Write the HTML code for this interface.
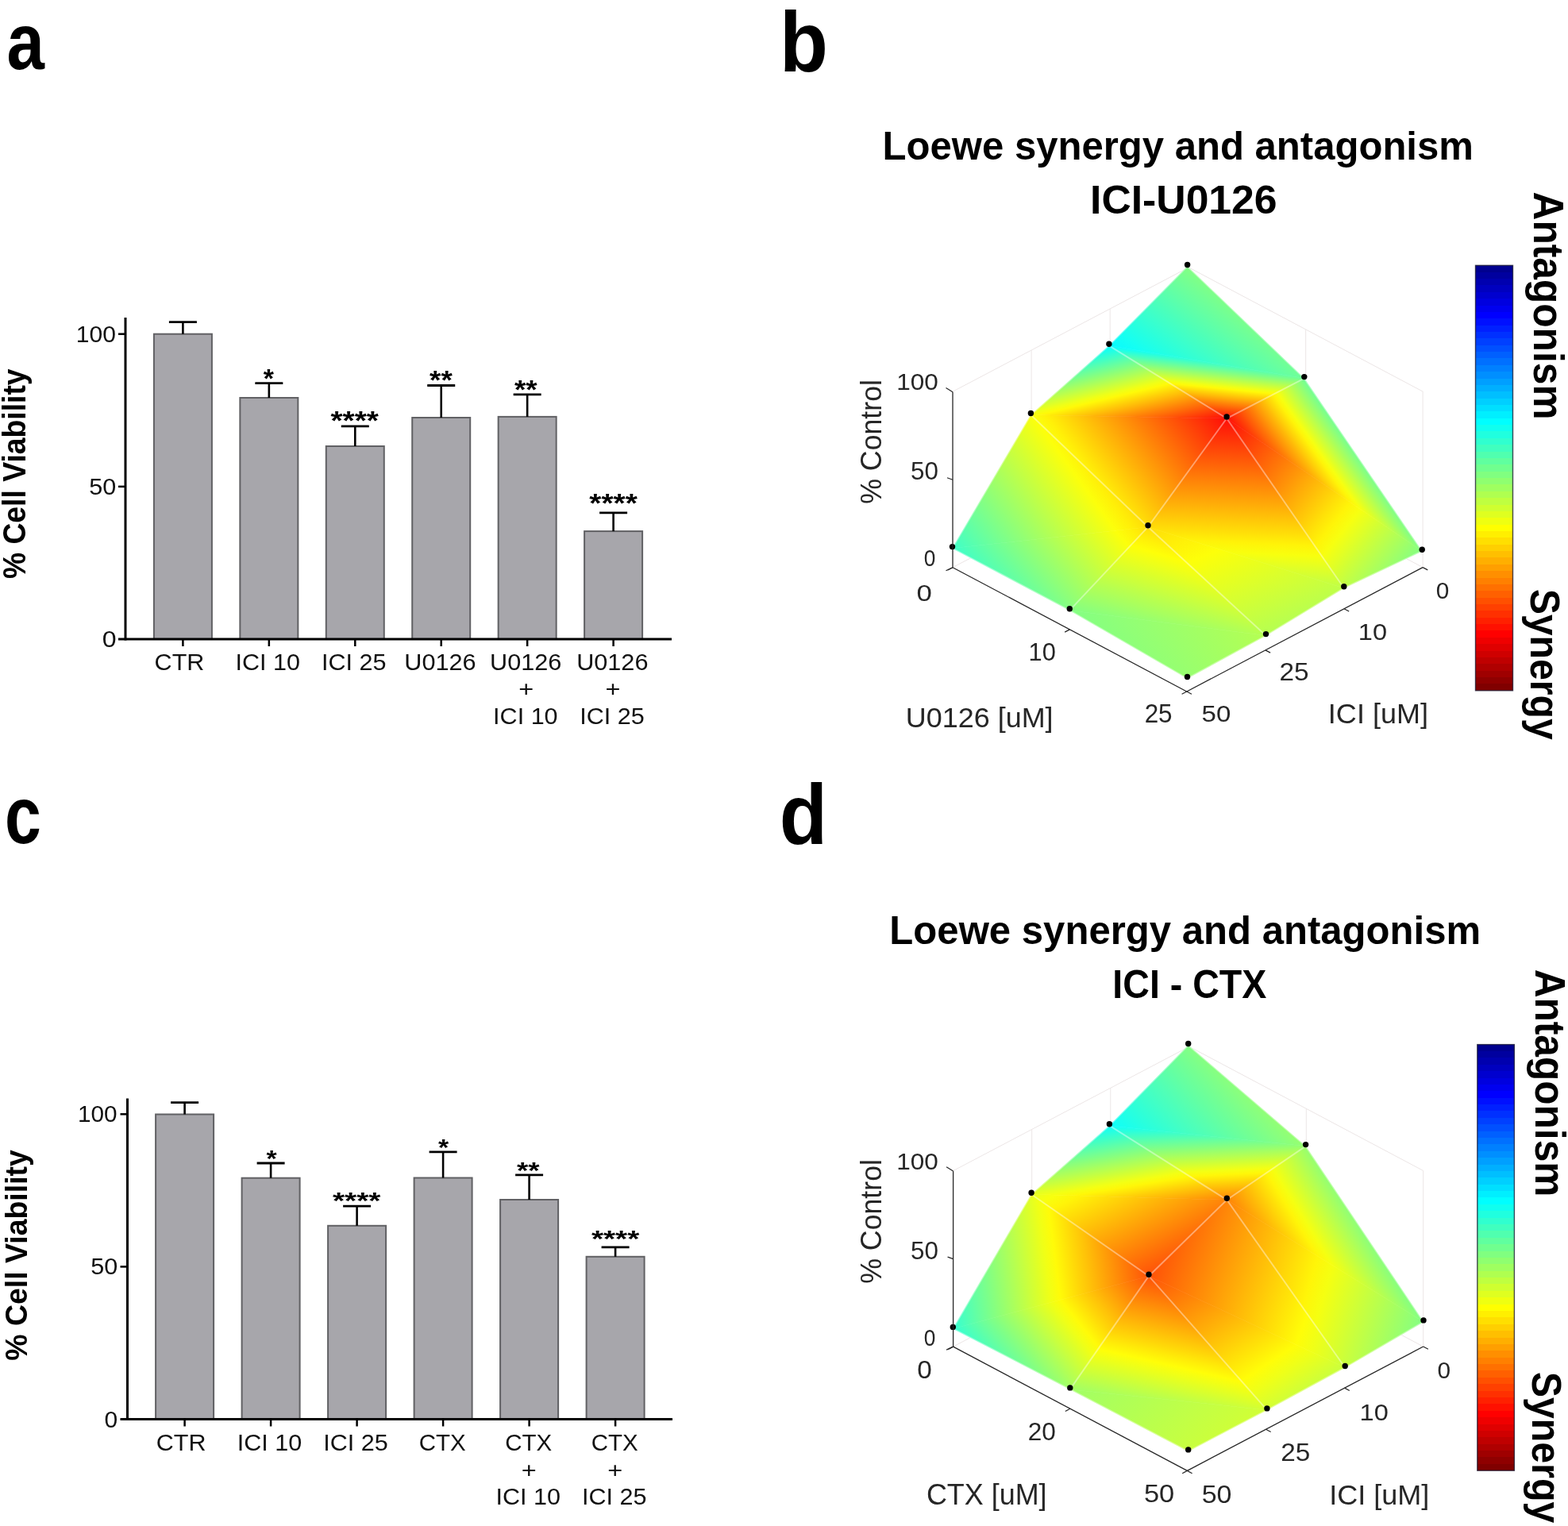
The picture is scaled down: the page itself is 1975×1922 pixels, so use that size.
<!DOCTYPE html><html><head><meta charset="utf-8"><style>html,body{margin:0;padding:0;background:#fff;overflow:hidden}svg{display:block}</style></head><body><svg width="1975" height="1922" viewBox="0 0 1975 1922"><rect width="1975" height="1922" fill="#fff"/><text transform="translate(8.44,86.69) scale(0.8467,1)" font-family="Liberation Sans, sans-serif" font-weight="bold" font-size="100.73" fill="#000">a</text>
<text transform="translate(981.91,89.80) scale(0.9316,1)" font-family="Liberation Sans, sans-serif" font-weight="bold" font-size="107.12" fill="#000">b</text>
<text transform="translate(5.90,1061.98) scale(0.8112,1)" font-family="Liberation Sans, sans-serif" font-weight="bold" font-size="101.64" fill="#000">c</text>
<text transform="translate(981.75,1062.50) scale(0.9176,1)" font-family="Liberation Sans, sans-serif" font-weight="bold" font-size="107.67" fill="#000">d</text>
<rect x="193.90" y="420.70" width="73" height="384.30" fill="#a7a6ab" stroke="#616164" stroke-width="2"/>
<line x1="230.40" y1="405.70" x2="230.40" y2="420.70" stroke="#000" stroke-width="2.6" />
<line x1="212.90" y1="405.70" x2="247.90" y2="405.70" stroke="#000" stroke-width="2.8" />
<rect x="302.34" y="501.00" width="73" height="304.00" fill="#a7a6ab" stroke="#616164" stroke-width="2"/>
<line x1="338.84" y1="482.70" x2="338.84" y2="501.00" stroke="#000" stroke-width="2.6" />
<line x1="321.34" y1="482.70" x2="356.34" y2="482.70" stroke="#000" stroke-width="2.8" />
<rect x="410.78" y="562.00" width="73" height="243.00" fill="#a7a6ab" stroke="#616164" stroke-width="2"/>
<line x1="447.28" y1="536.90" x2="447.28" y2="562.00" stroke="#000" stroke-width="2.6" />
<line x1="429.78" y1="536.90" x2="464.78" y2="536.90" stroke="#000" stroke-width="2.8" />
<rect x="519.22" y="526.00" width="73" height="279.00" fill="#a7a6ab" stroke="#616164" stroke-width="2"/>
<line x1="555.72" y1="485.50" x2="555.72" y2="526.00" stroke="#000" stroke-width="2.6" />
<line x1="538.22" y1="485.50" x2="573.22" y2="485.50" stroke="#000" stroke-width="2.8" />
<rect x="627.66" y="524.90" width="73" height="280.10" fill="#a7a6ab" stroke="#616164" stroke-width="2"/>
<line x1="664.16" y1="496.80" x2="664.16" y2="524.90" stroke="#000" stroke-width="2.6" />
<line x1="646.66" y1="496.80" x2="681.66" y2="496.80" stroke="#000" stroke-width="2.8" />
<rect x="736.10" y="669.10" width="73" height="135.90" fill="#a7a6ab" stroke="#616164" stroke-width="2"/>
<line x1="772.60" y1="645.80" x2="772.60" y2="669.10" stroke="#000" stroke-width="2.6" />
<line x1="755.10" y1="645.80" x2="790.10" y2="645.80" stroke="#000" stroke-width="2.8" />
<line x1="158.00" y1="400.00" x2="158.00" y2="806.50" stroke="#000" stroke-width="3" />
<line x1="149.00" y1="805.00" x2="846.00" y2="805.00" stroke="#000" stroke-width="3" />
<line x1="149.00" y1="420.70" x2="158.00" y2="420.70" stroke="#000" stroke-width="2.5" />
<line x1="149.00" y1="612.85" x2="158.00" y2="612.85" stroke="#000" stroke-width="2.5" />
<line x1="230.40" y1="805.00" x2="230.40" y2="814.00" stroke="#000" stroke-width="2.5" />
<line x1="338.84" y1="805.00" x2="338.84" y2="814.00" stroke="#000" stroke-width="2.5" />
<line x1="447.28" y1="805.00" x2="447.28" y2="814.00" stroke="#000" stroke-width="2.5" />
<line x1="555.72" y1="805.00" x2="555.72" y2="814.00" stroke="#000" stroke-width="2.5" />
<line x1="664.16" y1="805.00" x2="664.16" y2="814.00" stroke="#000" stroke-width="2.5" />
<line x1="772.60" y1="805.00" x2="772.60" y2="814.00" stroke="#000" stroke-width="2.5" />
<text transform="translate(331.74,488.32) scale(1.0099,1)" font-family="Liberation Sans, sans-serif" font-weight="bold" font-size="33.51" fill="#000">*</text>
<text transform="translate(416.48,541.42) scale(1.1589,1)" font-family="Liberation Sans, sans-serif" font-weight="bold" font-size="33.51" fill="#000">****</text>
<text transform="translate(541.07,490.02) scale(1.0979,1)" font-family="Liberation Sans, sans-serif" font-weight="bold" font-size="33.51" fill="#000">**</text>
<text transform="translate(648.01,501.92) scale(1.0979,1)" font-family="Liberation Sans, sans-serif" font-weight="bold" font-size="33.51" fill="#000">**</text>
<text transform="translate(742.30,645.02) scale(1.1589,1)" font-family="Liberation Sans, sans-serif" font-weight="bold" font-size="33.51" fill="#000">****</text>
<text transform="translate(194.62,843.50) scale(1.0316,1)" font-family="Liberation Sans, sans-serif" font-weight="normal" font-size="29.58" fill="#111">CTR</text>
<text transform="translate(296.39,843.50) scale(1.0329,1)" font-family="Liberation Sans, sans-serif" font-weight="normal" font-size="29.58" fill="#111">ICI 10</text>
<text transform="translate(404.93,843.50) scale(1.0329,1)" font-family="Liberation Sans, sans-serif" font-weight="normal" font-size="29.58" fill="#111">ICI 25</text>
<text transform="translate(509.27,843.50) scale(1.0359,1)" font-family="Liberation Sans, sans-serif" font-weight="normal" font-size="29.58" fill="#111">U0126</text>
<text transform="translate(617.01,843.50) scale(1.0359,1)" font-family="Liberation Sans, sans-serif" font-weight="normal" font-size="29.58" fill="#111">U0126</text>
<text transform="translate(653.24,877.40) scale(1.1710,1)" font-family="Liberation Sans, sans-serif" font-weight="normal" font-size="27.76" fill="#111">+</text>
<text transform="translate(621.11,911.51) scale(1.0581,1)" font-family="Liberation Sans, sans-serif" font-weight="normal" font-size="28.87" fill="#111">ICI 10</text>
<text transform="translate(726.15,843.50) scale(1.0359,1)" font-family="Liberation Sans, sans-serif" font-weight="normal" font-size="29.58" fill="#111">U0126</text>
<text transform="translate(762.38,877.40) scale(1.1710,1)" font-family="Liberation Sans, sans-serif" font-weight="normal" font-size="27.76" fill="#111">+</text>
<text transform="translate(730.25,911.51) scale(1.0581,1)" font-family="Liberation Sans, sans-serif" font-weight="normal" font-size="28.87" fill="#111">ICI 25</text>
<text transform="translate(95.79,430.70) scale(1.0165,1)" font-family="Liberation Sans, sans-serif" font-weight="normal" font-size="29.58" fill="#111">100</text>
<text transform="translate(112.28,622.70) scale(1.0340,1)" font-family="Liberation Sans, sans-serif" font-weight="normal" font-size="29.58" fill="#111">50</text>
<text transform="translate(128.72,814.70) scale(1.0847,1)" font-family="Liberation Sans, sans-serif" font-weight="normal" font-size="29.58" fill="#111">0</text>
<text transform="translate(32.04,729.12) rotate(-90) scale(0.9381,1)" font-family="Liberation Sans, sans-serif" font-weight="bold" font-size="39.79" fill="#000">% Cell Viability</text>
<rect x="196.10" y="1403.50" width="73" height="384.00" fill="#a7a6ab" stroke="#616164" stroke-width="2"/>
<line x1="232.60" y1="1388.70" x2="232.60" y2="1403.50" stroke="#000" stroke-width="2.6" />
<line x1="215.10" y1="1388.70" x2="250.10" y2="1388.70" stroke="#000" stroke-width="2.8" />
<rect x="304.60" y="1483.70" width="73" height="303.80" fill="#a7a6ab" stroke="#616164" stroke-width="2"/>
<line x1="341.10" y1="1465.00" x2="341.10" y2="1483.70" stroke="#000" stroke-width="2.6" />
<line x1="323.60" y1="1465.00" x2="358.60" y2="1465.00" stroke="#000" stroke-width="2.8" />
<rect x="413.10" y="1543.80" width="73" height="243.70" fill="#a7a6ab" stroke="#616164" stroke-width="2"/>
<line x1="449.60" y1="1519.20" x2="449.60" y2="1543.80" stroke="#000" stroke-width="2.6" />
<line x1="432.10" y1="1519.20" x2="467.10" y2="1519.20" stroke="#000" stroke-width="2.8" />
<rect x="521.60" y="1483.50" width="73" height="304.00" fill="#a7a6ab" stroke="#616164" stroke-width="2"/>
<line x1="558.10" y1="1450.90" x2="558.10" y2="1483.50" stroke="#000" stroke-width="2.6" />
<line x1="540.60" y1="1450.90" x2="575.60" y2="1450.90" stroke="#000" stroke-width="2.8" />
<rect x="630.10" y="1511.00" width="73" height="276.50" fill="#a7a6ab" stroke="#616164" stroke-width="2"/>
<line x1="666.60" y1="1479.80" x2="666.60" y2="1511.00" stroke="#000" stroke-width="2.6" />
<line x1="649.10" y1="1479.80" x2="684.10" y2="1479.80" stroke="#000" stroke-width="2.8" />
<rect x="738.60" y="1582.80" width="73" height="204.70" fill="#a7a6ab" stroke="#616164" stroke-width="2"/>
<line x1="775.10" y1="1570.80" x2="775.10" y2="1582.80" stroke="#000" stroke-width="2.6" />
<line x1="757.60" y1="1570.80" x2="792.60" y2="1570.80" stroke="#000" stroke-width="2.8" />
<line x1="160.50" y1="1383.50" x2="160.50" y2="1789.00" stroke="#000" stroke-width="3" />
<line x1="151.50" y1="1787.50" x2="847.00" y2="1787.50" stroke="#000" stroke-width="3" />
<line x1="151.50" y1="1403.30" x2="160.50" y2="1403.30" stroke="#000" stroke-width="2.5" />
<line x1="151.50" y1="1595.40" x2="160.50" y2="1595.40" stroke="#000" stroke-width="2.5" />
<line x1="232.60" y1="1787.50" x2="232.60" y2="1796.50" stroke="#000" stroke-width="2.5" />
<line x1="341.10" y1="1787.50" x2="341.10" y2="1796.50" stroke="#000" stroke-width="2.5" />
<line x1="449.60" y1="1787.50" x2="449.60" y2="1796.50" stroke="#000" stroke-width="2.5" />
<line x1="558.10" y1="1787.50" x2="558.10" y2="1796.50" stroke="#000" stroke-width="2.5" />
<line x1="666.60" y1="1787.50" x2="666.60" y2="1796.50" stroke="#000" stroke-width="2.5" />
<line x1="775.10" y1="1787.50" x2="775.10" y2="1796.50" stroke="#000" stroke-width="2.5" />
<text transform="translate(335.40,1468.51) scale(1.1385,1)" font-family="Liberation Sans, sans-serif" font-weight="bold" font-size="29.73" fill="#000">*</text>
<text transform="translate(419.00,1522.21) scale(1.3064,1)" font-family="Liberation Sans, sans-serif" font-weight="bold" font-size="29.73" fill="#000">****</text>
<text transform="translate(551.90,1455.31) scale(1.1385,1)" font-family="Liberation Sans, sans-serif" font-weight="bold" font-size="29.73" fill="#000">*</text>
<text transform="translate(651.05,1484.31) scale(1.2376,1)" font-family="Liberation Sans, sans-serif" font-weight="bold" font-size="29.73" fill="#000">**</text>
<text transform="translate(744.90,1570.21) scale(1.3064,1)" font-family="Liberation Sans, sans-serif" font-weight="bold" font-size="29.73" fill="#000">****</text>
<text transform="translate(196.82,1826.70) scale(1.0316,1)" font-family="Liberation Sans, sans-serif" font-weight="normal" font-size="29.58" fill="#111">CTR</text>
<text transform="translate(298.65,1826.70) scale(1.0329,1)" font-family="Liberation Sans, sans-serif" font-weight="normal" font-size="29.58" fill="#111">ICI 10</text>
<text transform="translate(407.25,1826.70) scale(1.0329,1)" font-family="Liberation Sans, sans-serif" font-weight="normal" font-size="29.58" fill="#111">ICI 25</text>
<text transform="translate(527.83,1826.70) scale(0.9967,1)" font-family="Liberation Sans, sans-serif" font-weight="normal" font-size="29.58" fill="#111">CTX</text>
<text transform="translate(636.33,1826.70) scale(0.9967,1)" font-family="Liberation Sans, sans-serif" font-weight="normal" font-size="29.58" fill="#111">CTX</text>
<text transform="translate(656.68,1860.60) scale(1.1710,1)" font-family="Liberation Sans, sans-serif" font-weight="normal" font-size="27.76" fill="#111">+</text>
<text transform="translate(624.55,1894.71) scale(1.0581,1)" font-family="Liberation Sans, sans-serif" font-weight="normal" font-size="28.87" fill="#111">ICI 10</text>
<text transform="translate(744.83,1826.70) scale(0.9967,1)" font-family="Liberation Sans, sans-serif" font-weight="normal" font-size="29.58" fill="#111">CTX</text>
<text transform="translate(765.18,1860.60) scale(1.1710,1)" font-family="Liberation Sans, sans-serif" font-weight="normal" font-size="27.76" fill="#111">+</text>
<text transform="translate(733.05,1894.71) scale(1.0581,1)" font-family="Liberation Sans, sans-serif" font-weight="normal" font-size="28.87" fill="#111">ICI 25</text>
<text transform="translate(98.02,1413.01) scale(1.0152,1)" font-family="Liberation Sans, sans-serif" font-weight="normal" font-size="29.30" fill="#111">100</text>
<text transform="translate(114.28,1605.20) scale(1.0340,1)" font-family="Liberation Sans, sans-serif" font-weight="normal" font-size="29.58" fill="#111">50</text>
<text transform="translate(131.40,1797.70) scale(1.0143,1)" font-family="Liberation Sans, sans-serif" font-weight="normal" font-size="29.58" fill="#111">0</text>
<text transform="translate(33.57,1713.82) rotate(-90) scale(0.9438,1)" font-family="Liberation Sans, sans-serif" font-weight="bold" font-size="39.68" fill="#000">% Cell Viability</text>
<line x1="1200.00" y1="714.70" x2="1497.30" y2="558.30" stroke="#ece6e6" stroke-width="1" />
<line x1="1792.10" y1="714.60" x2="1497.30" y2="558.30" stroke="#ece6e6" stroke-width="1" />
<line x1="1200.00" y1="493.20" x2="1497.30" y2="336.80" stroke="#ece6e6" stroke-width="1" />
<line x1="1792.10" y1="493.10" x2="1497.30" y2="336.80" stroke="#ece6e6" stroke-width="1" />
<line x1="1792.10" y1="493.10" x2="1792.10" y2="714.60" stroke="#ece6e6" stroke-width="1" />
<line x1="1398.20" y1="388.93" x2="1398.20" y2="610.43" stroke="#ece6e6" stroke-width="1" />
<line x1="1299.10" y1="441.07" x2="1299.10" y2="662.57" stroke="#ece6e6" stroke-width="1" />
<line x1="1644.70" y1="414.95" x2="1644.70" y2="636.45" stroke="#ece6e6" stroke-width="1" />
<line x1="1497.30" y1="336.80" x2="1497.30" y2="558.30" stroke="#ece6e6" stroke-width="1" />
<defs><linearGradient id="gb000" gradientUnits="userSpaceOnUse" x1="1410.29" y1="445.67" x2="1495.60" y2="335.50"><stop offset="0.000" stop-color="#08faff"/><stop offset="0.143" stop-color="#15fff2"/><stop offset="0.286" stop-color="#27ffdf"/><stop offset="0.429" stop-color="#3affcd"/><stop offset="0.571" stop-color="#4cffba"/><stop offset="0.714" stop-color="#5fffa8"/><stop offset="0.857" stop-color="#71ff96"/><stop offset="1.000" stop-color="#83ff83"/></linearGradient><linearGradient id="gb001" gradientUnits="userSpaceOnUse" x1="1396.90" y1="435.30" x2="1389.35" y2="511.57"><stop offset="0.000" stop-color="#08faff"/><stop offset="0.040" stop-color="#16fff0"/><stop offset="0.080" stop-color="#2affdc"/><stop offset="0.120" stop-color="#3effc9"/><stop offset="0.160" stop-color="#52ffb5"/><stop offset="0.200" stop-color="#66ffa1"/><stop offset="0.240" stop-color="#79ff8d"/><stop offset="0.280" stop-color="#8dff79"/><stop offset="0.320" stop-color="#a1ff66"/><stop offset="0.360" stop-color="#b5ff52"/><stop offset="0.400" stop-color="#c9ff3e"/><stop offset="0.440" stop-color="#dcff2a"/><stop offset="0.480" stop-color="#f0ff16"/><stop offset="0.520" stop-color="#fffa08"/><stop offset="0.560" stop-color="#ffe608"/><stop offset="0.600" stop-color="#ffd208"/><stop offset="0.640" stop-color="#ffbf08"/><stop offset="0.680" stop-color="#ffab08"/><stop offset="0.720" stop-color="#ff9708"/><stop offset="0.760" stop-color="#ff8308"/><stop offset="0.800" stop-color="#ff7008"/><stop offset="0.840" stop-color="#ff5c08"/><stop offset="0.880" stop-color="#ff4808"/><stop offset="0.920" stop-color="#ff3408"/><stop offset="0.960" stop-color="#ff2008"/><stop offset="1.000" stop-color="#ff0d08"/></linearGradient><linearGradient id="gb010" gradientUnits="userSpaceOnUse" x1="1396.90" y1="435.30" x2="1425.72" y2="555.60"><stop offset="0.000" stop-color="#08faff"/><stop offset="0.040" stop-color="#16fff0"/><stop offset="0.080" stop-color="#2affdc"/><stop offset="0.120" stop-color="#3effc9"/><stop offset="0.160" stop-color="#52ffb5"/><stop offset="0.200" stop-color="#66ffa1"/><stop offset="0.240" stop-color="#79ff8d"/><stop offset="0.280" stop-color="#8dff79"/><stop offset="0.320" stop-color="#a1ff66"/><stop offset="0.360" stop-color="#b5ff52"/><stop offset="0.400" stop-color="#c9ff3e"/><stop offset="0.440" stop-color="#dcff2a"/><stop offset="0.480" stop-color="#f0ff16"/><stop offset="0.520" stop-color="#fffa08"/><stop offset="0.560" stop-color="#ffe608"/><stop offset="0.600" stop-color="#ffd208"/><stop offset="0.640" stop-color="#ffbf08"/><stop offset="0.680" stop-color="#ffab08"/><stop offset="0.720" stop-color="#ff9708"/><stop offset="0.760" stop-color="#ff8308"/><stop offset="0.800" stop-color="#ff7008"/><stop offset="0.840" stop-color="#ff5c08"/><stop offset="0.880" stop-color="#ff4808"/><stop offset="0.920" stop-color="#ff3408"/><stop offset="0.960" stop-color="#ff2008"/><stop offset="1.000" stop-color="#ff0d08"/></linearGradient><linearGradient id="gb011" gradientUnits="userSpaceOnUse" x1="1298.40" y1="522.50" x2="1451.14" y2="404.93"><stop offset="0.000" stop-color="#faff0d"/><stop offset="0.077" stop-color="#fff108"/><stop offset="0.154" stop-color="#ffde08"/><stop offset="0.231" stop-color="#ffcb08"/><stop offset="0.308" stop-color="#ffb808"/><stop offset="0.385" stop-color="#ffa508"/><stop offset="0.462" stop-color="#ff9208"/><stop offset="0.538" stop-color="#ff7f08"/><stop offset="0.615" stop-color="#ff6c08"/><stop offset="0.692" stop-color="#ff5908"/><stop offset="0.769" stop-color="#ff4608"/><stop offset="0.846" stop-color="#ff3308"/><stop offset="0.923" stop-color="#ff2008"/><stop offset="1.000" stop-color="#ff0d08"/></linearGradient><linearGradient id="gb020" gradientUnits="userSpaceOnUse" x1="1153.50" y1="626.53" x2="1328.91" y2="500.60"><stop offset="0.000" stop-color="#3effc9"/><stop offset="0.083" stop-color="#51ffb6"/><stop offset="0.167" stop-color="#64ffa3"/><stop offset="0.250" stop-color="#77ff90"/><stop offset="0.333" stop-color="#8aff7d"/><stop offset="0.417" stop-color="#9dff6a"/><stop offset="0.500" stop-color="#b0ff57"/><stop offset="0.583" stop-color="#c3ff44"/><stop offset="0.667" stop-color="#d6ff31"/><stop offset="0.750" stop-color="#e9ff1e"/><stop offset="0.833" stop-color="#fcff0b"/><stop offset="0.917" stop-color="#ffef08"/><stop offset="1.000" stop-color="#ffdc08"/></linearGradient><linearGradient id="gb021" gradientUnits="userSpaceOnUse" x1="1199.50" y1="690.60" x2="1356.93" y2="557.97"><stop offset="0.000" stop-color="#3effc9"/><stop offset="0.083" stop-color="#51ffb6"/><stop offset="0.167" stop-color="#64ffa3"/><stop offset="0.250" stop-color="#77ff90"/><stop offset="0.333" stop-color="#8aff7d"/><stop offset="0.417" stop-color="#9dff6a"/><stop offset="0.500" stop-color="#b0ff57"/><stop offset="0.583" stop-color="#c3ff44"/><stop offset="0.667" stop-color="#d6ff31"/><stop offset="0.750" stop-color="#e9ff1e"/><stop offset="0.833" stop-color="#fcff0b"/><stop offset="0.917" stop-color="#ffef08"/><stop offset="1.000" stop-color="#ffdc08"/></linearGradient><linearGradient id="gb100" gradientUnits="userSpaceOnUse" x1="1642.80" y1="476.60" x2="1554.23" y2="539.79"><stop offset="0.000" stop-color="#70ff97"/><stop offset="0.050" stop-color="#83ff84"/><stop offset="0.100" stop-color="#96ff71"/><stop offset="0.150" stop-color="#a9ff5d"/><stop offset="0.200" stop-color="#bdff4a"/><stop offset="0.250" stop-color="#d0ff37"/><stop offset="0.300" stop-color="#e3ff23"/><stop offset="0.350" stop-color="#f7ff10"/><stop offset="0.400" stop-color="#fff408"/><stop offset="0.450" stop-color="#ffe108"/><stop offset="0.500" stop-color="#ffce08"/><stop offset="0.550" stop-color="#ffba08"/><stop offset="0.600" stop-color="#ffa708"/><stop offset="0.650" stop-color="#ff9408"/><stop offset="0.700" stop-color="#ff8008"/><stop offset="0.750" stop-color="#ff6d08"/><stop offset="0.800" stop-color="#ff5a08"/><stop offset="0.850" stop-color="#ff4608"/><stop offset="0.900" stop-color="#ff3308"/><stop offset="0.950" stop-color="#ff2008"/><stop offset="1.000" stop-color="#ff0d08"/></linearGradient><linearGradient id="gb101" gradientUnits="userSpaceOnUse" x1="1777.39" y1="711.58" x2="1545.10" y2="527.00"><stop offset="0.000" stop-color="#83ff83"/><stop offset="0.053" stop-color="#97ff70"/><stop offset="0.105" stop-color="#aaff5d"/><stop offset="0.158" stop-color="#bdff4a"/><stop offset="0.211" stop-color="#d0ff36"/><stop offset="0.263" stop-color="#e4ff23"/><stop offset="0.316" stop-color="#f7ff10"/><stop offset="0.368" stop-color="#fff408"/><stop offset="0.421" stop-color="#ffe108"/><stop offset="0.474" stop-color="#ffcd08"/><stop offset="0.526" stop-color="#ffba08"/><stop offset="0.579" stop-color="#ffa708"/><stop offset="0.632" stop-color="#ff9308"/><stop offset="0.684" stop-color="#ff8008"/><stop offset="0.737" stop-color="#ff6d08"/><stop offset="0.789" stop-color="#ff5a08"/><stop offset="0.842" stop-color="#ff4608"/><stop offset="0.895" stop-color="#ff3308"/><stop offset="0.947" stop-color="#ff2008"/><stop offset="1.000" stop-color="#ff0d08"/></linearGradient><linearGradient id="gb110" gradientUnits="userSpaceOnUse" x1="1536.70" y1="734.38" x2="1545.10" y2="527.00"><stop offset="0.000" stop-color="#bfff48"/><stop offset="0.062" stop-color="#d2ff35"/><stop offset="0.125" stop-color="#e5ff22"/><stop offset="0.188" stop-color="#f8ff0e"/><stop offset="0.250" stop-color="#fff308"/><stop offset="0.312" stop-color="#ffdf08"/><stop offset="0.375" stop-color="#ffcc08"/><stop offset="0.438" stop-color="#ffb908"/><stop offset="0.500" stop-color="#ffa608"/><stop offset="0.562" stop-color="#ff9308"/><stop offset="0.625" stop-color="#ff8008"/><stop offset="0.688" stop-color="#ff6c08"/><stop offset="0.750" stop-color="#ff5908"/><stop offset="0.812" stop-color="#ff4608"/><stop offset="0.875" stop-color="#ff3308"/><stop offset="0.938" stop-color="#ff2008"/><stop offset="1.000" stop-color="#ff0d08"/></linearGradient><linearGradient id="gb111" gradientUnits="userSpaceOnUse" x1="1517.91" y1="833.11" x2="1446.00" y2="663.70"><stop offset="0.000" stop-color="#b5ff52"/><stop offset="0.167" stop-color="#c7ff40"/><stop offset="0.333" stop-color="#d9ff2e"/><stop offset="0.500" stop-color="#ebff1b"/><stop offset="0.667" stop-color="#fdff09"/><stop offset="0.833" stop-color="#ffef08"/><stop offset="1.000" stop-color="#ffdc08"/></linearGradient><linearGradient id="gb120" gradientUnits="userSpaceOnUse" x1="1409.08" y1="787.26" x2="1446.00" y2="663.70"><stop offset="0.000" stop-color="#83ff83"/><stop offset="0.111" stop-color="#95ff72"/><stop offset="0.222" stop-color="#a7ff60"/><stop offset="0.333" stop-color="#b8ff4f"/><stop offset="0.444" stop-color="#caff3d"/><stop offset="0.556" stop-color="#dbff2b"/><stop offset="0.667" stop-color="#edff1a"/><stop offset="0.778" stop-color="#feff08"/><stop offset="0.889" stop-color="#ffee08"/><stop offset="1.000" stop-color="#ffdc08"/></linearGradient><linearGradient id="gb121" gradientUnits="userSpaceOnUse" x1="1347.30" y1="768.80" x2="1502.24" y2="664.09"><stop offset="0.000" stop-color="#83ff83"/><stop offset="0.333" stop-color="#94ff73"/><stop offset="0.667" stop-color="#a4ff62"/><stop offset="1.000" stop-color="#b5ff52"/></linearGradient></defs><polygon points="1495.60,335.50 1396.90,435.30 1642.80,476.60" fill="url(#gb000)" stroke="url(#gb000)" stroke-width="0.6" stroke-linejoin="round"/>
<polygon points="1396.90,435.30 1545.10,527.00 1642.80,476.60" fill="url(#gb001)" stroke="url(#gb001)" stroke-width="0.6" stroke-linejoin="round"/>
<polygon points="1396.90,435.30 1298.40,522.50 1545.10,527.00" fill="url(#gb010)" stroke="url(#gb010)" stroke-width="0.6" stroke-linejoin="round"/>
<polygon points="1298.40,522.50 1446.00,663.70 1545.10,527.00" fill="url(#gb011)" stroke="url(#gb011)" stroke-width="0.6" stroke-linejoin="round"/>
<polygon points="1298.40,522.50 1199.50,690.60 1446.00,663.70" fill="url(#gb020)" stroke="url(#gb020)" stroke-width="0.6" stroke-linejoin="round"/>
<polygon points="1199.50,690.60 1347.30,768.80 1446.00,663.70" fill="url(#gb021)" stroke="url(#gb021)" stroke-width="0.6" stroke-linejoin="round"/>
<polygon points="1642.80,476.60 1545.10,527.00 1791.20,694.20" fill="url(#gb100)" stroke="url(#gb100)" stroke-width="0.6" stroke-linejoin="round"/>
<polygon points="1545.10,527.00 1692.80,740.70 1791.20,694.20" fill="url(#gb101)" stroke="url(#gb101)" stroke-width="0.6" stroke-linejoin="round"/>
<polygon points="1545.10,527.00 1446.00,663.70 1692.80,740.70" fill="url(#gb110)" stroke="url(#gb110)" stroke-width="0.6" stroke-linejoin="round"/>
<polygon points="1446.00,663.70 1594.50,800.60 1692.80,740.70" fill="url(#gb111)" stroke="url(#gb111)" stroke-width="0.6" stroke-linejoin="round"/>
<polygon points="1446.00,663.70 1347.30,768.80 1594.50,800.60" fill="url(#gb120)" stroke="url(#gb120)" stroke-width="0.6" stroke-linejoin="round"/>
<polygon points="1347.30,768.80 1495.50,854.50 1594.50,800.60" fill="url(#gb121)" stroke="url(#gb121)" stroke-width="0.6" stroke-linejoin="round"/>
<polyline points="1495.6,335.5 1396.9,435.3 1298.4,522.5 1199.5,690.6" fill="none" stroke="#fff" stroke-opacity="0.38" stroke-width="2.0"/>
<polyline points="1642.8,476.6 1545.1,527.0 1446.0,663.7 1347.3,768.8" fill="none" stroke="#fff" stroke-opacity="0.38" stroke-width="2.0"/>
<polyline points="1791.2,694.2 1692.8,740.7 1594.5,800.6 1495.5,854.5" fill="none" stroke="#fff" stroke-opacity="0.38" stroke-width="2.0"/>
<polyline points="1495.6,335.5 1642.8,476.6 1791.2,694.2" fill="none" stroke="#fff" stroke-opacity="0.38" stroke-width="2.0"/>
<polyline points="1396.9,435.3 1545.1,527.0 1692.8,740.7" fill="none" stroke="#fff" stroke-opacity="0.38" stroke-width="2.0"/>
<polyline points="1298.4,522.5 1446.0,663.7 1594.5,800.6" fill="none" stroke="#fff" stroke-opacity="0.38" stroke-width="2.0"/>
<polyline points="1199.5,690.6 1347.3,768.8 1495.5,854.5" fill="none" stroke="#fff" stroke-opacity="0.38" stroke-width="2.0"/>
<circle cx="1495.6" cy="333.5" r="3.7" fill="#000"/>
<circle cx="1396.9" cy="433.3" r="3.7" fill="#000"/>
<circle cx="1298.4" cy="520.5" r="3.7" fill="#000"/>
<circle cx="1199.5" cy="688.6" r="3.7" fill="#000"/>
<circle cx="1642.8" cy="474.6" r="3.7" fill="#000"/>
<circle cx="1545.1" cy="525.0" r="3.7" fill="#000"/>
<circle cx="1446.0" cy="661.7" r="3.7" fill="#000"/>
<circle cx="1347.3" cy="766.8" r="3.7" fill="#000"/>
<circle cx="1791.2" cy="692.2" r="3.7" fill="#000"/>
<circle cx="1692.8" cy="738.7" r="3.7" fill="#000"/>
<circle cx="1594.5" cy="798.6" r="3.7" fill="#000"/>
<circle cx="1495.5" cy="852.5" r="3.7" fill="#000"/>
<line x1="1200.00" y1="493.70" x2="1200.00" y2="714.70" stroke="#262626" stroke-width="1.3" />
<line x1="1200.00" y1="714.70" x2="1494.80" y2="871.00" stroke="#262626" stroke-width="1.3" />
<line x1="1792.10" y1="714.60" x2="1494.80" y2="871.00" stroke="#262626" stroke-width="1.3" />
<line x1="1191.50" y1="488.40" x2="1200.00" y2="493.70" stroke="#262626" stroke-width="1.2" />
<line x1="1193.00" y1="601.70" x2="1200.00" y2="604.20" stroke="#262626" stroke-width="1.2" />
<line x1="1191.50" y1="718.70" x2="1200.00" y2="714.70" stroke="#262626" stroke-width="1.2" />
<line x1="1200.00" y1="714.70" x2="1193.80" y2="717.96" stroke="#262626" stroke-width="1.2" />
<line x1="1347.40" y1="792.85" x2="1341.20" y2="796.11" stroke="#262626" stroke-width="1.2" />
<line x1="1494.80" y1="871.00" x2="1488.60" y2="874.26" stroke="#262626" stroke-width="1.2" />
<line x1="1792.10" y1="714.60" x2="1798.28" y2="717.88" stroke="#262626" stroke-width="1.2" />
<line x1="1693.00" y1="766.73" x2="1699.18" y2="770.01" stroke="#262626" stroke-width="1.2" />
<line x1="1593.90" y1="818.87" x2="1600.08" y2="822.15" stroke="#262626" stroke-width="1.2" />
<line x1="1494.80" y1="871.00" x2="1500.98" y2="874.28" stroke="#262626" stroke-width="1.2" />
<text transform="translate(1110.03,634.83) rotate(-90) scale(0.9613,1)" font-family="Liberation Sans, sans-serif" font-weight="normal" font-size="37.16" fill="#262626">% Control</text>
<text transform="translate(1129.18,491.21) scale(1.0927,1)" font-family="Liberation Sans, sans-serif" font-weight="normal" font-size="28.87" fill="#262626">100</text>
<text transform="translate(1147.05,603.89) scale(1.0260,1)" font-family="Liberation Sans, sans-serif" font-weight="normal" font-size="30.56" fill="#262626">50</text>
<text transform="translate(1163.75,713.40) scale(0.8791,1)" font-family="Liberation Sans, sans-serif" font-weight="normal" font-size="29.86" fill="#262626">0</text>
<text transform="translate(1808.81,753.60) scale(0.9838,1)" font-family="Liberation Sans, sans-serif" font-weight="normal" font-size="30.28" fill="#262626">0</text>
<text transform="translate(1710.80,806.40) scale(1.0741,1)" font-family="Liberation Sans, sans-serif" font-weight="normal" font-size="30.28" fill="#262626">10</text>
<text transform="translate(1611.53,857.29) scale(1.0613,1)" font-family="Liberation Sans, sans-serif" font-weight="normal" font-size="31.41" fill="#262626">25</text>
<text transform="translate(1295.54,831.68) scale(0.9679,1)" font-family="Liberation Sans, sans-serif" font-weight="normal" font-size="31.83" fill="#262626">10</text>
<text transform="translate(1154.61,756.70) scale(1.1652,1)" font-family="Liberation Sans, sans-serif" font-weight="normal" font-size="29.86" fill="#262626">0</text>
<text transform="translate(1513.58,909.20) scale(1.0901,1)" font-family="Liberation Sans, sans-serif" font-weight="normal" font-size="30.28" fill="#262626">50</text>
<text transform="translate(1672.86,911.46) scale(1.0450,1)" font-family="Liberation Sans, sans-serif" font-weight="normal" font-size="34.47" fill="#262626">ICI [uM]</text>
<text transform="translate(1441.63,909.87) scale(0.9508,1)" font-family="Liberation Sans, sans-serif" font-weight="normal" font-size="33.10" fill="#262626">25</text>
<text transform="translate(1140.83,916.16) scale(1.0426,1)" font-family="Liberation Sans, sans-serif" font-weight="normal" font-size="34.47" fill="#262626">U0126 [uM]</text>
<text transform="translate(1111.57,200.91) scale(0.9919,1)" font-family="Liberation Sans, sans-serif" font-weight="bold" font-size="49.47" fill="#000">Loewe synergy and antagonism</text>
<text transform="translate(1373.08,268.80) scale(1.0250,1)" font-family="Liberation Sans, sans-serif" font-weight="bold" font-size="50.42" fill="#000">ICI-U0126</text>
<text transform="translate(1931.58,241.51) rotate(90) scale(0.9251,1)" font-family="Liberation Sans, sans-serif" font-weight="bold" font-size="53.72" fill="#000">Antagonism</text>
<text transform="translate(1928.10,741.65) rotate(90) scale(0.9369,1)" font-family="Liberation Sans, sans-serif" font-weight="bold" font-size="51.43" fill="#000">Synergy</text>
<linearGradient id="cbb" x1="0" y1="0" x2="0" y2="1"><stop offset="0.00000" stop-color="#00008f"/><stop offset="0.01562" stop-color="#00008f"/><stop offset="0.01562" stop-color="#00009f"/><stop offset="0.03125" stop-color="#00009f"/><stop offset="0.03125" stop-color="#0000af"/><stop offset="0.04688" stop-color="#0000af"/><stop offset="0.04688" stop-color="#0000bf"/><stop offset="0.06250" stop-color="#0000bf"/><stop offset="0.06250" stop-color="#0000cf"/><stop offset="0.07812" stop-color="#0000cf"/><stop offset="0.07812" stop-color="#0000df"/><stop offset="0.09375" stop-color="#0000df"/><stop offset="0.09375" stop-color="#0000ef"/><stop offset="0.10938" stop-color="#0000ef"/><stop offset="0.10938" stop-color="#0000ff"/><stop offset="0.12500" stop-color="#0000ff"/><stop offset="0.12500" stop-color="#0010ff"/><stop offset="0.14062" stop-color="#0010ff"/><stop offset="0.14062" stop-color="#0020ff"/><stop offset="0.15625" stop-color="#0020ff"/><stop offset="0.15625" stop-color="#0030ff"/><stop offset="0.17188" stop-color="#0030ff"/><stop offset="0.17188" stop-color="#0040ff"/><stop offset="0.18750" stop-color="#0040ff"/><stop offset="0.18750" stop-color="#0050ff"/><stop offset="0.20312" stop-color="#0050ff"/><stop offset="0.20312" stop-color="#0060ff"/><stop offset="0.21875" stop-color="#0060ff"/><stop offset="0.21875" stop-color="#0070ff"/><stop offset="0.23438" stop-color="#0070ff"/><stop offset="0.23438" stop-color="#0080ff"/><stop offset="0.25000" stop-color="#0080ff"/><stop offset="0.25000" stop-color="#008fff"/><stop offset="0.26562" stop-color="#008fff"/><stop offset="0.26562" stop-color="#009fff"/><stop offset="0.28125" stop-color="#009fff"/><stop offset="0.28125" stop-color="#00afff"/><stop offset="0.29688" stop-color="#00afff"/><stop offset="0.29688" stop-color="#00bfff"/><stop offset="0.31250" stop-color="#00bfff"/><stop offset="0.31250" stop-color="#00cfff"/><stop offset="0.32812" stop-color="#00cfff"/><stop offset="0.32812" stop-color="#00dfff"/><stop offset="0.34375" stop-color="#00dfff"/><stop offset="0.34375" stop-color="#00efff"/><stop offset="0.35938" stop-color="#00efff"/><stop offset="0.35938" stop-color="#00ffff"/><stop offset="0.37500" stop-color="#00ffff"/><stop offset="0.37500" stop-color="#10ffef"/><stop offset="0.39062" stop-color="#10ffef"/><stop offset="0.39062" stop-color="#20ffdf"/><stop offset="0.40625" stop-color="#20ffdf"/><stop offset="0.40625" stop-color="#30ffcf"/><stop offset="0.42188" stop-color="#30ffcf"/><stop offset="0.42188" stop-color="#40ffbf"/><stop offset="0.43750" stop-color="#40ffbf"/><stop offset="0.43750" stop-color="#50ffaf"/><stop offset="0.45312" stop-color="#50ffaf"/><stop offset="0.45312" stop-color="#60ff9f"/><stop offset="0.46875" stop-color="#60ff9f"/><stop offset="0.46875" stop-color="#70ff8f"/><stop offset="0.48438" stop-color="#70ff8f"/><stop offset="0.48438" stop-color="#80ff80"/><stop offset="0.50000" stop-color="#80ff80"/><stop offset="0.50000" stop-color="#8fff70"/><stop offset="0.51562" stop-color="#8fff70"/><stop offset="0.51562" stop-color="#9fff60"/><stop offset="0.53125" stop-color="#9fff60"/><stop offset="0.53125" stop-color="#afff50"/><stop offset="0.54688" stop-color="#afff50"/><stop offset="0.54688" stop-color="#bfff40"/><stop offset="0.56250" stop-color="#bfff40"/><stop offset="0.56250" stop-color="#cfff30"/><stop offset="0.57812" stop-color="#cfff30"/><stop offset="0.57812" stop-color="#dfff20"/><stop offset="0.59375" stop-color="#dfff20"/><stop offset="0.59375" stop-color="#efff10"/><stop offset="0.60938" stop-color="#efff10"/><stop offset="0.60938" stop-color="#ffff00"/><stop offset="0.62500" stop-color="#ffff00"/><stop offset="0.62500" stop-color="#ffef00"/><stop offset="0.64062" stop-color="#ffef00"/><stop offset="0.64062" stop-color="#ffdf00"/><stop offset="0.65625" stop-color="#ffdf00"/><stop offset="0.65625" stop-color="#ffcf00"/><stop offset="0.67188" stop-color="#ffcf00"/><stop offset="0.67188" stop-color="#ffbf00"/><stop offset="0.68750" stop-color="#ffbf00"/><stop offset="0.68750" stop-color="#ffaf00"/><stop offset="0.70312" stop-color="#ffaf00"/><stop offset="0.70312" stop-color="#ff9f00"/><stop offset="0.71875" stop-color="#ff9f00"/><stop offset="0.71875" stop-color="#ff8f00"/><stop offset="0.73438" stop-color="#ff8f00"/><stop offset="0.73438" stop-color="#ff8000"/><stop offset="0.75000" stop-color="#ff8000"/><stop offset="0.75000" stop-color="#ff7000"/><stop offset="0.76562" stop-color="#ff7000"/><stop offset="0.76562" stop-color="#ff6000"/><stop offset="0.78125" stop-color="#ff6000"/><stop offset="0.78125" stop-color="#ff5000"/><stop offset="0.79688" stop-color="#ff5000"/><stop offset="0.79688" stop-color="#ff4000"/><stop offset="0.81250" stop-color="#ff4000"/><stop offset="0.81250" stop-color="#ff3000"/><stop offset="0.82812" stop-color="#ff3000"/><stop offset="0.82812" stop-color="#ff2000"/><stop offset="0.84375" stop-color="#ff2000"/><stop offset="0.84375" stop-color="#ff1000"/><stop offset="0.85938" stop-color="#ff1000"/><stop offset="0.85938" stop-color="#ff0000"/><stop offset="0.87500" stop-color="#ff0000"/><stop offset="0.87500" stop-color="#ef0000"/><stop offset="0.89062" stop-color="#ef0000"/><stop offset="0.89062" stop-color="#df0000"/><stop offset="0.90625" stop-color="#df0000"/><stop offset="0.90625" stop-color="#cf0000"/><stop offset="0.92188" stop-color="#cf0000"/><stop offset="0.92188" stop-color="#bf0000"/><stop offset="0.93750" stop-color="#bf0000"/><stop offset="0.93750" stop-color="#af0000"/><stop offset="0.95312" stop-color="#af0000"/><stop offset="0.95312" stop-color="#9f0000"/><stop offset="0.96875" stop-color="#9f0000"/><stop offset="0.96875" stop-color="#8f0000"/><stop offset="0.98438" stop-color="#8f0000"/><stop offset="0.98438" stop-color="#800000"/><stop offset="1.00000" stop-color="#800000"/></linearGradient>
<rect x="1858.5" y="334.3" width="47.0" height="535.5" fill="url(#cbb)" stroke="#101028" stroke-opacity="0.75" stroke-width="1.4"/>
<line x1="1200.60" y1="1696.10" x2="1497.90" y2="1539.70" stroke="#ece6e6" stroke-width="1" />
<line x1="1792.70" y1="1696.00" x2="1497.90" y2="1539.70" stroke="#ece6e6" stroke-width="1" />
<line x1="1200.60" y1="1474.60" x2="1497.90" y2="1318.20" stroke="#ece6e6" stroke-width="1" />
<line x1="1792.70" y1="1474.50" x2="1497.90" y2="1318.20" stroke="#ece6e6" stroke-width="1" />
<line x1="1792.70" y1="1474.50" x2="1792.70" y2="1696.00" stroke="#ece6e6" stroke-width="1" />
<line x1="1398.80" y1="1370.33" x2="1398.80" y2="1591.83" stroke="#ece6e6" stroke-width="1" />
<line x1="1299.70" y1="1422.47" x2="1299.70" y2="1643.97" stroke="#ece6e6" stroke-width="1" />
<line x1="1645.30" y1="1396.35" x2="1645.30" y2="1617.85" stroke="#ece6e6" stroke-width="1" />
<line x1="1497.90" y1="1318.20" x2="1497.90" y2="1539.70" stroke="#ece6e6" stroke-width="1" />
<defs><linearGradient id="gd000" gradientUnits="userSpaceOnUse" x1="1392.12" y1="1411.91" x2="1514.13" y2="1300.60"><stop offset="0.000" stop-color="#0dfffa"/><stop offset="0.125" stop-color="#1effe9"/><stop offset="0.250" stop-color="#2fffd7"/><stop offset="0.375" stop-color="#41ffc6"/><stop offset="0.500" stop-color="#52ffb5"/><stop offset="0.625" stop-color="#63ffa3"/><stop offset="0.750" stop-color="#74ff92"/><stop offset="0.875" stop-color="#86ff81"/><stop offset="1.000" stop-color="#97ff70"/></linearGradient><linearGradient id="gd001" gradientUnits="userSpaceOnUse" x1="1397.40" y1="1417.70" x2="1402.39" y2="1518.28"><stop offset="0.000" stop-color="#0dfffa"/><stop offset="0.053" stop-color="#20ffe7"/><stop offset="0.105" stop-color="#33ffd4"/><stop offset="0.158" stop-color="#46ffc0"/><stop offset="0.211" stop-color="#5affad"/><stop offset="0.263" stop-color="#6dff9a"/><stop offset="0.316" stop-color="#80ff86"/><stop offset="0.368" stop-color="#93ff73"/><stop offset="0.421" stop-color="#a7ff60"/><stop offset="0.474" stop-color="#baff4d"/><stop offset="0.526" stop-color="#cdff39"/><stop offset="0.579" stop-color="#e1ff26"/><stop offset="0.632" stop-color="#f4ff13"/><stop offset="0.684" stop-color="#fff708"/><stop offset="0.737" stop-color="#ffe408"/><stop offset="0.789" stop-color="#ffd008"/><stop offset="0.842" stop-color="#ffbd08"/><stop offset="0.895" stop-color="#ffaa08"/><stop offset="0.947" stop-color="#ff9708"/><stop offset="1.000" stop-color="#ff8308"/></linearGradient><linearGradient id="gd010" gradientUnits="userSpaceOnUse" x1="1397.40" y1="1417.70" x2="1416.46" y2="1532.58"><stop offset="0.000" stop-color="#0dfffa"/><stop offset="0.053" stop-color="#20ffe7"/><stop offset="0.105" stop-color="#33ffd4"/><stop offset="0.158" stop-color="#46ffc0"/><stop offset="0.211" stop-color="#5affad"/><stop offset="0.263" stop-color="#6dff9a"/><stop offset="0.316" stop-color="#80ff86"/><stop offset="0.368" stop-color="#93ff73"/><stop offset="0.421" stop-color="#a7ff60"/><stop offset="0.474" stop-color="#baff4d"/><stop offset="0.526" stop-color="#cdff39"/><stop offset="0.579" stop-color="#e1ff26"/><stop offset="0.632" stop-color="#f4ff13"/><stop offset="0.684" stop-color="#fff708"/><stop offset="0.737" stop-color="#ffe408"/><stop offset="0.789" stop-color="#ffd008"/><stop offset="0.842" stop-color="#ffbd08"/><stop offset="0.895" stop-color="#ffaa08"/><stop offset="0.947" stop-color="#ff9708"/><stop offset="1.000" stop-color="#ff8308"/></linearGradient><linearGradient id="gd011" gradientUnits="userSpaceOnUse" x1="1299.10" y1="1504.20" x2="1372.64" y2="1645.81"><stop offset="0.000" stop-color="#e6ff20"/><stop offset="0.091" stop-color="#f8ff0e"/><stop offset="0.182" stop-color="#fff408"/><stop offset="0.273" stop-color="#ffe208"/><stop offset="0.364" stop-color="#ffd008"/><stop offset="0.455" stop-color="#ffbe08"/><stop offset="0.545" stop-color="#ffac08"/><stop offset="0.636" stop-color="#ff9a08"/><stop offset="0.727" stop-color="#ff8808"/><stop offset="0.818" stop-color="#ff7608"/><stop offset="0.909" stop-color="#ff6408"/><stop offset="1.000" stop-color="#ff5208"/></linearGradient><linearGradient id="gd020" gradientUnits="userSpaceOnUse" x1="1180.18" y1="1519.78" x2="1431.24" y2="1486.89"><stop offset="0.000" stop-color="#34ffd2"/><stop offset="0.050" stop-color="#47ffc0"/><stop offset="0.100" stop-color="#5affad"/><stop offset="0.150" stop-color="#6dff9a"/><stop offset="0.200" stop-color="#7fff87"/><stop offset="0.250" stop-color="#92ff74"/><stop offset="0.300" stop-color="#a5ff62"/><stop offset="0.350" stop-color="#b8ff4f"/><stop offset="0.400" stop-color="#cbff3c"/><stop offset="0.450" stop-color="#ddff29"/><stop offset="0.500" stop-color="#f0ff16"/><stop offset="0.550" stop-color="#fffb08"/><stop offset="0.600" stop-color="#ffe808"/><stop offset="0.650" stop-color="#ffd508"/><stop offset="0.700" stop-color="#ffc308"/><stop offset="0.750" stop-color="#ffb008"/><stop offset="0.800" stop-color="#ff9d08"/><stop offset="0.850" stop-color="#ff8a08"/><stop offset="0.900" stop-color="#ff7708"/><stop offset="0.950" stop-color="#ff6508"/><stop offset="1.000" stop-color="#ff5208"/></linearGradient><linearGradient id="gd021" gradientUnits="userSpaceOnUse" x1="1200.30" y1="1673.40" x2="1383.66" y2="1527.56"><stop offset="0.000" stop-color="#34ffd2"/><stop offset="0.050" stop-color="#47ffc0"/><stop offset="0.100" stop-color="#5affad"/><stop offset="0.150" stop-color="#6dff9a"/><stop offset="0.200" stop-color="#7fff87"/><stop offset="0.250" stop-color="#92ff74"/><stop offset="0.300" stop-color="#a5ff62"/><stop offset="0.350" stop-color="#b8ff4f"/><stop offset="0.400" stop-color="#cbff3c"/><stop offset="0.450" stop-color="#ddff29"/><stop offset="0.500" stop-color="#f0ff16"/><stop offset="0.550" stop-color="#fffb08"/><stop offset="0.600" stop-color="#ffe808"/><stop offset="0.650" stop-color="#ffd508"/><stop offset="0.700" stop-color="#ffc308"/><stop offset="0.750" stop-color="#ffb008"/><stop offset="0.800" stop-color="#ff9d08"/><stop offset="0.850" stop-color="#ff8a08"/><stop offset="0.900" stop-color="#ff7708"/><stop offset="0.950" stop-color="#ff6508"/><stop offset="1.000" stop-color="#ff5208"/></linearGradient><linearGradient id="gd100" gradientUnits="userSpaceOnUse" x1="1653.49" y1="1438.13" x2="1542.40" y2="1506.48"><stop offset="0.000" stop-color="#83ff83"/><stop offset="0.077" stop-color="#96ff70"/><stop offset="0.154" stop-color="#a9ff5d"/><stop offset="0.231" stop-color="#bcff4a"/><stop offset="0.308" stop-color="#cfff37"/><stop offset="0.385" stop-color="#e2ff24"/><stop offset="0.462" stop-color="#f5ff11"/><stop offset="0.538" stop-color="#fff508"/><stop offset="0.615" stop-color="#ffe208"/><stop offset="0.692" stop-color="#ffcf08"/><stop offset="0.769" stop-color="#ffbc08"/><stop offset="0.846" stop-color="#ffa908"/><stop offset="0.923" stop-color="#ff9608"/><stop offset="1.000" stop-color="#ff8308"/></linearGradient><linearGradient id="gd101" gradientUnits="userSpaceOnUse" x1="1814.89" y1="1590.08" x2="1545.30" y2="1511.20"><stop offset="0.000" stop-color="#83ff83"/><stop offset="0.077" stop-color="#96ff70"/><stop offset="0.154" stop-color="#a9ff5d"/><stop offset="0.231" stop-color="#bcff4a"/><stop offset="0.308" stop-color="#cfff37"/><stop offset="0.385" stop-color="#e2ff24"/><stop offset="0.462" stop-color="#f5ff11"/><stop offset="0.538" stop-color="#fff508"/><stop offset="0.615" stop-color="#ffe208"/><stop offset="0.692" stop-color="#ffcf08"/><stop offset="0.769" stop-color="#ffbc08"/><stop offset="0.846" stop-color="#ffa908"/><stop offset="0.923" stop-color="#ff9608"/><stop offset="1.000" stop-color="#ff8308"/></linearGradient><linearGradient id="gd110" gradientUnits="userSpaceOnUse" x1="1744.93" y1="1584.68" x2="1489.85" y2="1490.79"><stop offset="0.000" stop-color="#c9ff3e"/><stop offset="0.083" stop-color="#dcff2b"/><stop offset="0.167" stop-color="#efff18"/><stop offset="0.250" stop-color="#fffd08"/><stop offset="0.333" stop-color="#ffea08"/><stop offset="0.417" stop-color="#ffd708"/><stop offset="0.500" stop-color="#ffc408"/><stop offset="0.583" stop-color="#ffb108"/><stop offset="0.667" stop-color="#ff9e08"/><stop offset="0.750" stop-color="#ff8b08"/><stop offset="0.833" stop-color="#ff7808"/><stop offset="0.917" stop-color="#ff6508"/><stop offset="1.000" stop-color="#ff5208"/></linearGradient><linearGradient id="gd111" gradientUnits="userSpaceOnUse" x1="1576.37" y1="1801.11" x2="1447.00" y2="1607.20"><stop offset="0.000" stop-color="#c9ff3e"/><stop offset="0.083" stop-color="#dcff2b"/><stop offset="0.167" stop-color="#efff18"/><stop offset="0.250" stop-color="#fffd08"/><stop offset="0.333" stop-color="#ffea08"/><stop offset="0.417" stop-color="#ffd708"/><stop offset="0.500" stop-color="#ffc408"/><stop offset="0.583" stop-color="#ffb108"/><stop offset="0.667" stop-color="#ff9e08"/><stop offset="0.750" stop-color="#ff8b08"/><stop offset="0.833" stop-color="#ff7808"/><stop offset="0.917" stop-color="#ff6508"/><stop offset="1.000" stop-color="#ff5208"/></linearGradient><linearGradient id="gd120" gradientUnits="userSpaceOnUse" x1="1411.14" y1="1764.35" x2="1447.00" y2="1607.20"><stop offset="0.000" stop-color="#a1ff66"/><stop offset="0.071" stop-color="#b4ff53"/><stop offset="0.143" stop-color="#c7ff3f"/><stop offset="0.214" stop-color="#daff2c"/><stop offset="0.286" stop-color="#edff19"/><stop offset="0.357" stop-color="#fffe08"/><stop offset="0.429" stop-color="#ffeb08"/><stop offset="0.500" stop-color="#ffd708"/><stop offset="0.571" stop-color="#ffc408"/><stop offset="0.643" stop-color="#ffb108"/><stop offset="0.714" stop-color="#ff9e08"/><stop offset="0.786" stop-color="#ff8b08"/><stop offset="0.857" stop-color="#ff7808"/><stop offset="0.929" stop-color="#ff6508"/><stop offset="1.000" stop-color="#ff5208"/></linearGradient><linearGradient id="gd121" gradientUnits="userSpaceOnUse" x1="1347.80" y1="1749.90" x2="1502.33" y2="1883.85"><stop offset="0.000" stop-color="#a1ff66"/><stop offset="0.333" stop-color="#b1ff55"/><stop offset="0.667" stop-color="#c2ff45"/><stop offset="1.000" stop-color="#d2ff34"/></linearGradient></defs><polygon points="1496.70,1316.50 1397.40,1417.70 1644.60,1443.60" fill="url(#gd000)" stroke="url(#gd000)" stroke-width="0.6" stroke-linejoin="round"/>
<polygon points="1397.40,1417.70 1545.30,1511.20 1644.60,1443.60" fill="url(#gd001)" stroke="url(#gd001)" stroke-width="0.6" stroke-linejoin="round"/>
<polygon points="1397.40,1417.70 1299.10,1504.20 1545.30,1511.20" fill="url(#gd010)" stroke="url(#gd010)" stroke-width="0.6" stroke-linejoin="round"/>
<polygon points="1299.10,1504.20 1447.00,1607.20 1545.30,1511.20" fill="url(#gd011)" stroke="url(#gd011)" stroke-width="0.6" stroke-linejoin="round"/>
<polygon points="1299.10,1504.20 1200.30,1673.40 1447.00,1607.20" fill="url(#gd020)" stroke="url(#gd020)" stroke-width="0.6" stroke-linejoin="round"/>
<polygon points="1200.30,1673.40 1347.80,1749.90 1447.00,1607.20" fill="url(#gd021)" stroke="url(#gd021)" stroke-width="0.6" stroke-linejoin="round"/>
<polygon points="1644.60,1443.60 1545.30,1511.20 1793.00,1664.90" fill="url(#gd100)" stroke="url(#gd100)" stroke-width="0.6" stroke-linejoin="round"/>
<polygon points="1545.30,1511.20 1694.20,1722.50 1793.00,1664.90" fill="url(#gd101)" stroke="url(#gd101)" stroke-width="0.6" stroke-linejoin="round"/>
<polygon points="1545.30,1511.20 1447.00,1607.20 1694.20,1722.50" fill="url(#gd110)" stroke="url(#gd110)" stroke-width="0.6" stroke-linejoin="round"/>
<polygon points="1447.00,1607.20 1595.90,1775.90 1694.20,1722.50" fill="url(#gd111)" stroke="url(#gd111)" stroke-width="0.6" stroke-linejoin="round"/>
<polygon points="1447.00,1607.20 1347.80,1749.90 1595.90,1775.90" fill="url(#gd120)" stroke="url(#gd120)" stroke-width="0.6" stroke-linejoin="round"/>
<polygon points="1347.80,1749.90 1496.70,1827.90 1595.90,1775.90" fill="url(#gd121)" stroke="url(#gd121)" stroke-width="0.6" stroke-linejoin="round"/>
<polyline points="1496.7,1316.5 1397.4,1417.7 1299.1,1504.2 1200.3,1673.4" fill="none" stroke="#fff" stroke-opacity="0.38" stroke-width="2.0"/>
<polyline points="1644.6,1443.6 1545.3,1511.2 1447.0,1607.2 1347.8,1749.9" fill="none" stroke="#fff" stroke-opacity="0.38" stroke-width="2.0"/>
<polyline points="1793.0,1664.9 1694.2,1722.5 1595.9,1775.9 1496.7,1827.9" fill="none" stroke="#fff" stroke-opacity="0.38" stroke-width="2.0"/>
<polyline points="1496.7,1316.5 1644.6,1443.6 1793.0,1664.9" fill="none" stroke="#fff" stroke-opacity="0.38" stroke-width="2.0"/>
<polyline points="1397.4,1417.7 1545.3,1511.2 1694.2,1722.5" fill="none" stroke="#fff" stroke-opacity="0.38" stroke-width="2.0"/>
<polyline points="1299.1,1504.2 1447.0,1607.2 1595.9,1775.9" fill="none" stroke="#fff" stroke-opacity="0.38" stroke-width="2.0"/>
<polyline points="1200.3,1673.4 1347.8,1749.9 1496.7,1827.9" fill="none" stroke="#fff" stroke-opacity="0.38" stroke-width="2.0"/>
<circle cx="1496.7" cy="1314.5" r="3.7" fill="#000"/>
<circle cx="1397.4" cy="1415.7" r="3.7" fill="#000"/>
<circle cx="1299.1" cy="1502.2" r="3.7" fill="#000"/>
<circle cx="1200.3" cy="1671.4" r="3.7" fill="#000"/>
<circle cx="1644.6" cy="1441.6" r="3.7" fill="#000"/>
<circle cx="1545.3" cy="1509.2" r="3.7" fill="#000"/>
<circle cx="1447.0" cy="1605.2" r="3.7" fill="#000"/>
<circle cx="1347.8" cy="1747.9" r="3.7" fill="#000"/>
<circle cx="1793.0" cy="1662.9" r="3.7" fill="#000"/>
<circle cx="1694.2" cy="1720.5" r="3.7" fill="#000"/>
<circle cx="1595.9" cy="1773.9" r="3.7" fill="#000"/>
<circle cx="1496.7" cy="1825.9" r="3.7" fill="#000"/>
<line x1="1200.60" y1="1475.10" x2="1200.60" y2="1696.10" stroke="#262626" stroke-width="1.3" />
<line x1="1200.60" y1="1696.10" x2="1495.40" y2="1852.40" stroke="#262626" stroke-width="1.3" />
<line x1="1792.70" y1="1696.00" x2="1495.40" y2="1852.40" stroke="#262626" stroke-width="1.3" />
<line x1="1192.10" y1="1469.80" x2="1200.60" y2="1475.10" stroke="#262626" stroke-width="1.2" />
<line x1="1193.60" y1="1583.10" x2="1200.60" y2="1585.60" stroke="#262626" stroke-width="1.2" />
<line x1="1192.10" y1="1700.10" x2="1200.60" y2="1696.10" stroke="#262626" stroke-width="1.2" />
<line x1="1200.60" y1="1696.10" x2="1194.40" y2="1699.36" stroke="#262626" stroke-width="1.2" />
<line x1="1348.00" y1="1774.25" x2="1341.80" y2="1777.51" stroke="#262626" stroke-width="1.2" />
<line x1="1495.40" y1="1852.40" x2="1489.20" y2="1855.66" stroke="#262626" stroke-width="1.2" />
<line x1="1792.70" y1="1696.00" x2="1798.88" y2="1699.28" stroke="#262626" stroke-width="1.2" />
<line x1="1693.60" y1="1748.13" x2="1699.78" y2="1751.41" stroke="#262626" stroke-width="1.2" />
<line x1="1594.50" y1="1800.27" x2="1600.68" y2="1803.55" stroke="#262626" stroke-width="1.2" />
<line x1="1495.40" y1="1852.40" x2="1501.58" y2="1855.68" stroke="#262626" stroke-width="1.2" />
<text transform="translate(1110.03,1616.83) rotate(-90) scale(0.9613,1)" font-family="Liberation Sans, sans-serif" font-weight="normal" font-size="37.16" fill="#262626">% Control</text>
<text transform="translate(1129.18,1473.21) scale(1.0927,1)" font-family="Liberation Sans, sans-serif" font-weight="normal" font-size="28.87" fill="#262626">100</text>
<text transform="translate(1147.05,1585.89) scale(1.0260,1)" font-family="Liberation Sans, sans-serif" font-weight="normal" font-size="30.56" fill="#262626">50</text>
<text transform="translate(1163.75,1695.40) scale(0.8791,1)" font-family="Liberation Sans, sans-serif" font-weight="normal" font-size="29.86" fill="#262626">0</text>
<text transform="translate(1810.61,1736.40) scale(0.9838,1)" font-family="Liberation Sans, sans-serif" font-weight="normal" font-size="30.28" fill="#262626">0</text>
<text transform="translate(1712.60,1789.20) scale(1.0741,1)" font-family="Liberation Sans, sans-serif" font-weight="normal" font-size="30.28" fill="#262626">10</text>
<text transform="translate(1613.33,1840.09) scale(1.0613,1)" font-family="Liberation Sans, sans-serif" font-weight="normal" font-size="31.41" fill="#262626">25</text>
<text transform="translate(1294.82,1814.19) scale(1.0188,1)" font-family="Liberation Sans, sans-serif" font-weight="normal" font-size="30.99" fill="#262626">20</text>
<text transform="translate(1155.17,1736.19) scale(1.0758,1)" font-family="Liberation Sans, sans-serif" font-weight="normal" font-size="30.99" fill="#262626">0</text>
<text transform="translate(1513.64,1893.18) scale(1.0723,1)" font-family="Liberation Sans, sans-serif" font-weight="normal" font-size="31.69" fill="#262626">50</text>
<text transform="translate(1674.16,1895.16) scale(1.0176,1)" font-family="Liberation Sans, sans-serif" font-weight="normal" font-size="35.43" fill="#262626">ICI [uM]</text>
<text transform="translate(1440.92,1892.19) scale(1.1277,1)" font-family="Liberation Sans, sans-serif" font-weight="normal" font-size="30.56" fill="#262626">50</text>
<text transform="translate(1166.90,1895.03) scale(0.9962,1)" font-family="Liberation Sans, sans-serif" font-weight="normal" font-size="36.06" fill="#262626">CTX [uM]</text>
<text transform="translate(1120.36,1188.76) scale(0.9969,1)" font-family="Liberation Sans, sans-serif" font-weight="bold" font-size="49.26" fill="#000">Loewe synergy and antagonism</text>
<text transform="translate(1401.34,1256.69) scale(0.9184,1)" font-family="Liberation Sans, sans-serif" font-weight="bold" font-size="50.70" fill="#000">ICI - CTX</text>
<text transform="translate(1933.67,1220.71) rotate(90) scale(0.9330,1)" font-family="Liberation Sans, sans-serif" font-weight="bold" font-size="53.19" fill="#000">Antagonism</text>
<text transform="translate(1930.25,1727.75) rotate(90) scale(0.9178,1)" font-family="Liberation Sans, sans-serif" font-weight="bold" font-size="52.64" fill="#000">Synergy</text>
<linearGradient id="cbd" x1="0" y1="0" x2="0" y2="1"><stop offset="0.00000" stop-color="#00008f"/><stop offset="0.01562" stop-color="#00008f"/><stop offset="0.01562" stop-color="#00009f"/><stop offset="0.03125" stop-color="#00009f"/><stop offset="0.03125" stop-color="#0000af"/><stop offset="0.04688" stop-color="#0000af"/><stop offset="0.04688" stop-color="#0000bf"/><stop offset="0.06250" stop-color="#0000bf"/><stop offset="0.06250" stop-color="#0000cf"/><stop offset="0.07812" stop-color="#0000cf"/><stop offset="0.07812" stop-color="#0000df"/><stop offset="0.09375" stop-color="#0000df"/><stop offset="0.09375" stop-color="#0000ef"/><stop offset="0.10938" stop-color="#0000ef"/><stop offset="0.10938" stop-color="#0000ff"/><stop offset="0.12500" stop-color="#0000ff"/><stop offset="0.12500" stop-color="#0010ff"/><stop offset="0.14062" stop-color="#0010ff"/><stop offset="0.14062" stop-color="#0020ff"/><stop offset="0.15625" stop-color="#0020ff"/><stop offset="0.15625" stop-color="#0030ff"/><stop offset="0.17188" stop-color="#0030ff"/><stop offset="0.17188" stop-color="#0040ff"/><stop offset="0.18750" stop-color="#0040ff"/><stop offset="0.18750" stop-color="#0050ff"/><stop offset="0.20312" stop-color="#0050ff"/><stop offset="0.20312" stop-color="#0060ff"/><stop offset="0.21875" stop-color="#0060ff"/><stop offset="0.21875" stop-color="#0070ff"/><stop offset="0.23438" stop-color="#0070ff"/><stop offset="0.23438" stop-color="#0080ff"/><stop offset="0.25000" stop-color="#0080ff"/><stop offset="0.25000" stop-color="#008fff"/><stop offset="0.26562" stop-color="#008fff"/><stop offset="0.26562" stop-color="#009fff"/><stop offset="0.28125" stop-color="#009fff"/><stop offset="0.28125" stop-color="#00afff"/><stop offset="0.29688" stop-color="#00afff"/><stop offset="0.29688" stop-color="#00bfff"/><stop offset="0.31250" stop-color="#00bfff"/><stop offset="0.31250" stop-color="#00cfff"/><stop offset="0.32812" stop-color="#00cfff"/><stop offset="0.32812" stop-color="#00dfff"/><stop offset="0.34375" stop-color="#00dfff"/><stop offset="0.34375" stop-color="#00efff"/><stop offset="0.35938" stop-color="#00efff"/><stop offset="0.35938" stop-color="#00ffff"/><stop offset="0.37500" stop-color="#00ffff"/><stop offset="0.37500" stop-color="#10ffef"/><stop offset="0.39062" stop-color="#10ffef"/><stop offset="0.39062" stop-color="#20ffdf"/><stop offset="0.40625" stop-color="#20ffdf"/><stop offset="0.40625" stop-color="#30ffcf"/><stop offset="0.42188" stop-color="#30ffcf"/><stop offset="0.42188" stop-color="#40ffbf"/><stop offset="0.43750" stop-color="#40ffbf"/><stop offset="0.43750" stop-color="#50ffaf"/><stop offset="0.45312" stop-color="#50ffaf"/><stop offset="0.45312" stop-color="#60ff9f"/><stop offset="0.46875" stop-color="#60ff9f"/><stop offset="0.46875" stop-color="#70ff8f"/><stop offset="0.48438" stop-color="#70ff8f"/><stop offset="0.48438" stop-color="#80ff80"/><stop offset="0.50000" stop-color="#80ff80"/><stop offset="0.50000" stop-color="#8fff70"/><stop offset="0.51562" stop-color="#8fff70"/><stop offset="0.51562" stop-color="#9fff60"/><stop offset="0.53125" stop-color="#9fff60"/><stop offset="0.53125" stop-color="#afff50"/><stop offset="0.54688" stop-color="#afff50"/><stop offset="0.54688" stop-color="#bfff40"/><stop offset="0.56250" stop-color="#bfff40"/><stop offset="0.56250" stop-color="#cfff30"/><stop offset="0.57812" stop-color="#cfff30"/><stop offset="0.57812" stop-color="#dfff20"/><stop offset="0.59375" stop-color="#dfff20"/><stop offset="0.59375" stop-color="#efff10"/><stop offset="0.60938" stop-color="#efff10"/><stop offset="0.60938" stop-color="#ffff00"/><stop offset="0.62500" stop-color="#ffff00"/><stop offset="0.62500" stop-color="#ffef00"/><stop offset="0.64062" stop-color="#ffef00"/><stop offset="0.64062" stop-color="#ffdf00"/><stop offset="0.65625" stop-color="#ffdf00"/><stop offset="0.65625" stop-color="#ffcf00"/><stop offset="0.67188" stop-color="#ffcf00"/><stop offset="0.67188" stop-color="#ffbf00"/><stop offset="0.68750" stop-color="#ffbf00"/><stop offset="0.68750" stop-color="#ffaf00"/><stop offset="0.70312" stop-color="#ffaf00"/><stop offset="0.70312" stop-color="#ff9f00"/><stop offset="0.71875" stop-color="#ff9f00"/><stop offset="0.71875" stop-color="#ff8f00"/><stop offset="0.73438" stop-color="#ff8f00"/><stop offset="0.73438" stop-color="#ff8000"/><stop offset="0.75000" stop-color="#ff8000"/><stop offset="0.75000" stop-color="#ff7000"/><stop offset="0.76562" stop-color="#ff7000"/><stop offset="0.76562" stop-color="#ff6000"/><stop offset="0.78125" stop-color="#ff6000"/><stop offset="0.78125" stop-color="#ff5000"/><stop offset="0.79688" stop-color="#ff5000"/><stop offset="0.79688" stop-color="#ff4000"/><stop offset="0.81250" stop-color="#ff4000"/><stop offset="0.81250" stop-color="#ff3000"/><stop offset="0.82812" stop-color="#ff3000"/><stop offset="0.82812" stop-color="#ff2000"/><stop offset="0.84375" stop-color="#ff2000"/><stop offset="0.84375" stop-color="#ff1000"/><stop offset="0.85938" stop-color="#ff1000"/><stop offset="0.85938" stop-color="#ff0000"/><stop offset="0.87500" stop-color="#ff0000"/><stop offset="0.87500" stop-color="#ef0000"/><stop offset="0.89062" stop-color="#ef0000"/><stop offset="0.89062" stop-color="#df0000"/><stop offset="0.90625" stop-color="#df0000"/><stop offset="0.90625" stop-color="#cf0000"/><stop offset="0.92188" stop-color="#cf0000"/><stop offset="0.92188" stop-color="#bf0000"/><stop offset="0.93750" stop-color="#bf0000"/><stop offset="0.93750" stop-color="#af0000"/><stop offset="0.95312" stop-color="#af0000"/><stop offset="0.95312" stop-color="#9f0000"/><stop offset="0.96875" stop-color="#9f0000"/><stop offset="0.96875" stop-color="#8f0000"/><stop offset="0.98438" stop-color="#8f0000"/><stop offset="0.98438" stop-color="#800000"/><stop offset="1.00000" stop-color="#800000"/></linearGradient>
<rect x="1860.8" y="1315.6" width="46.600000000000136" height="536.6000000000001" fill="url(#cbd)" stroke="#101028" stroke-opacity="0.75" stroke-width="1.4"/></svg></body></html>
